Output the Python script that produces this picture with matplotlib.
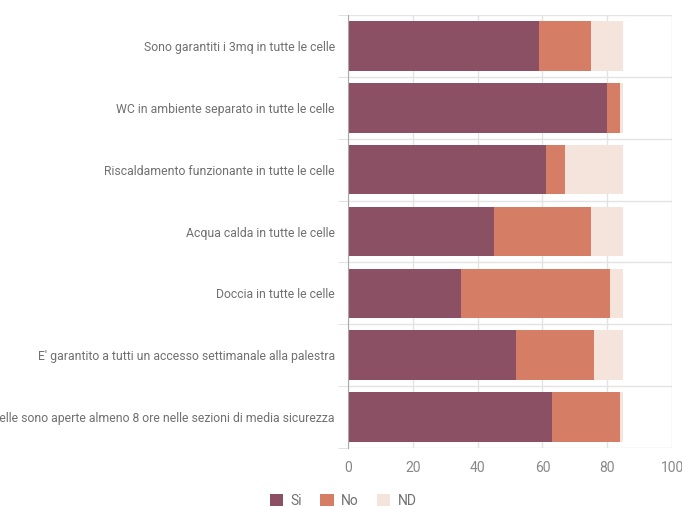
import matplotlib
matplotlib.use("Agg")
import matplotlib.pyplot as plt
from matplotlib.patches import Patch
import numpy as np

categories = [
    "Sono garantiti i 3mq in tutte le celle",
    "WC in ambiente separato in tutte le celle",
    "Riscaldamento funzionante in tutte le celle",
    "Acqua calda in tutte le celle",
    "Doccia in tutte le celle",
    "E' garantito a tutti un accesso settimanale alla palestra",
    "Le celle sono aperte almeno 8 ore nelle sezioni di media sicurezza",
]
si = [59, 80, 61, 45, 35, 52, 63]
no = [16, 4, 6, 30, 46, 24, 21]
nd = [10, 1, 18, 10, 4, 9, 1]

series = ["Si", "No", "ND"]
colors = ["#8B5063", "#D67D66", "#F5E4DC"]

plt.rcParams["font.family"] = ["Roboto", "DejaVu Sans"]
fig = plt.figure(figsize=(6.82, 5.07), dpi=100)
ax = fig.add_axes([348/682, 1-448/507, 324/682, 433/507])

y = np.arange(len(categories))
left = np.zeros(len(categories))
for vals, c, name in zip([si, no, nd], colors, series):
    ax.barh(y, vals, left=left, height=0.8, color=c, label=name, zorder=3)
    left += np.array(vals)

ax.set_xlim(0, 100)
ax.set_ylim(len(categories) - 0.5, -0.5)
ax.set_xticks([0, 20, 40, 60, 80, 100])
ax.set_yticks(y)
ax.set_yticklabels(categories)
ax.set_yticks(np.arange(-0.5, len(categories), 1), minor=True)
ax.tick_params(axis="y", which="major", length=0, pad=9.5, labelsize=8.8, labelcolor="#707070")
ax.tick_params(axis="y", which="minor", length=7, color="#dddddd")
ax.tick_params(axis="x", length=0, pad=9, labelsize=10, labelcolor="#888888")
ax.grid(axis="x", color="#e3e3e3", linewidth=1, zorder=0)
ax.grid(axis="y", which="minor", color="#e3e3e3", linewidth=1, zorder=0)
for s in ["top", "right", "bottom"]:
    ax.spines[s].set_visible(False)
ax.spines["left"].set_color("#aaaaaa")
ax.spines["left"].set_zorder(4)

handles = [Patch(facecolor=c, edgecolor="none") for c in colors]
fig.legend(handles, series, loc="center", bbox_to_anchor=(343/682, 1-501/507),
           ncol=3, frameon=False, fontsize=10, handlelength=1.0, handleheight=1.0,
           columnspacing=1.3, handletextpad=0.5, labelcolor="#707070")

fig.savefig("out.png", dpi=100)
